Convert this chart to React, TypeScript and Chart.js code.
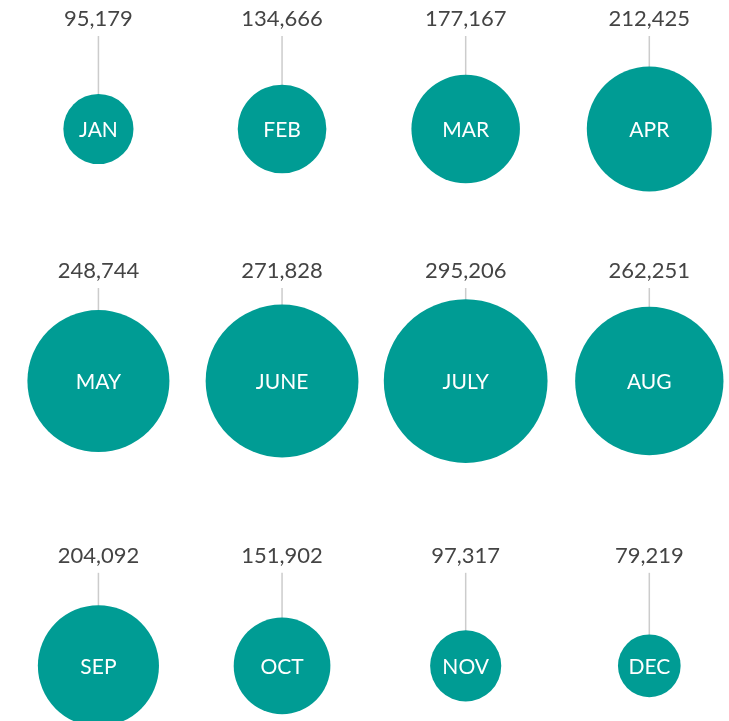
import React, { useEffect, useRef } from "react";
import { Chart, registerables } from "chart.js";

Chart.register(...registerables);

// ---- data ----
const months = ["JAN", "FEB", "MAR", "APR", "MAY", "JUNE", "JULY", "AUG", "SEP", "OCT", "NOV", "DEC"];
const visitors = [95179, 134666, 177167, 212425, 248744, 271828, 295206, 262251, 204092, 151902, 97317, 79219];

// ---- layout (grid of 4 columns x 3 rows) ----
const COLS = 4;
const ROW_LEVELS = [0, 1, 2.13];
const R_BASE = 12.8;
const R_PER_UNIT = 0.000234;
const LABEL_OFFSET = 110;
const TEAL = "#009C94";

const fmt = (v: number) => v.toLocaleString("en-US");

const labelPlugin = {
  id: "bubbleLabels",
  beforeDatasetsDraw(chart: any) {
    const ctx = chart.ctx;
    const meta = chart.getDatasetMeta(0);
    ctx.save();
    ctx.strokeStyle = "#cccccc";
    ctx.lineWidth = 1.5;
    meta.data.forEach((el: any) => {
      const r = el.options.radius;
      ctx.beginPath();
      ctx.moveTo(el.x, el.y - LABEL_OFFSET + 17);
      ctx.lineTo(el.x, el.y - r + 1);
      ctx.stroke();
    });
    ctx.restore();
  },
  afterDatasetsDraw(chart: any) {
    const ctx = chart.ctx;
    const meta = chart.getDatasetMeta(0);
    ctx.save();
    ctx.textAlign = "center";
    ctx.textBaseline = "middle";
    meta.data.forEach((el: any, i: number) => {
      ctx.fillStyle = "#444444";
      ctx.font = "22px Lato";
      ctx.fillText(fmt(visitors[i]), el.x, el.y - LABEL_OFFSET);
      ctx.fillStyle = "#ffffff";
      ctx.font = "21px Lato";
      ctx.fillText(months[i], el.x, el.y + 1);
    });
    ctx.restore();
  },
};

export default function App() {
  const ref = useRef<HTMLCanvasElement>(null);
  useEffect(() => {
    document.body.style.margin = "0";
    if (!ref.current) return;
    const points = visitors.map((v, i) => ({
      x: i % COLS,
      y: ROW_LEVELS[Math.floor(i / COLS)],
      r: R_BASE + v * R_PER_UNIT,
    }));
    const chart = new Chart(ref.current, {
      type: "bubble",
      data: {
        labels: months,
        datasets: [
          {
            data: points,
            backgroundColor: TEAL,
            borderWidth: 0,
            hoverRadius: 0,
            clip: false,
          } as any,
        ],
      },
      options: {
        animation: false,
        responsive: false,
        events: [],
        layout: { padding: 0, autoPadding: false },
        plugins: { legend: { display: false }, tooltip: { enabled: false } },
        scales: {
          x: { type: "linear", display: false, min: -0.536, max: 3.434 },
          y: { type: "linear", display: false, reverse: true, min: -0.5119, max: 2.349 },
        },
      },
      plugins: [labelPlugin],
    });
    return () => chart.destroy();
  }, []);
  return <canvas ref={ref} width={729} height={721} style={{ display: "block" }} />;
}
